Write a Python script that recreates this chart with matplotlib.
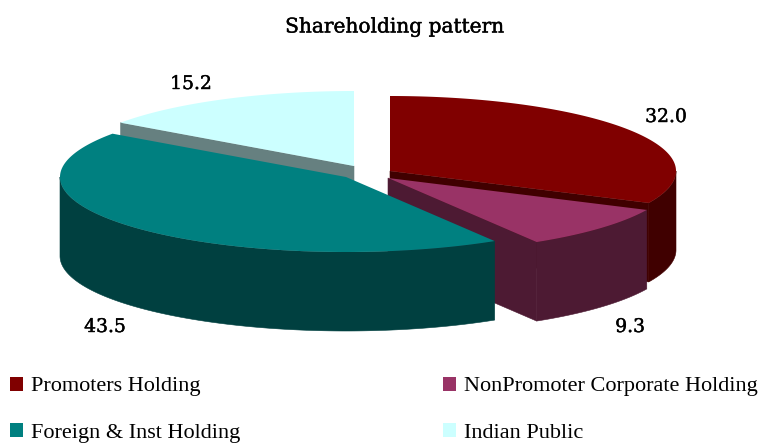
import numpy as np
import matplotlib
matplotlib.use('Agg')
import matplotlib.pyplot as plt
import matplotlib.patheffects as pe
from matplotlib.patches import Patch, Polygon

categories = ['Promoters Holding', 'NonPromoter Corporate Holding',
              'Foreign & Inst Holding', 'Indian Public']
values = [32.0, 9.3, 43.5, 15.2]

top_colors = ['#800000', '#993366', '#008080', '#ccffff']
wall_colors = ['#400000', '#4d1a33', '#004040', '#668080']

# pixel layout of each exploded slice (apex of the top face)
apex_x = [390, 388, 346, 354]
apex_y = [171, 178, 177, 166]
label_x = [666, 630, 105, 191]
label_y = [117, 327, 327, 84]
RX, RY = 286, 75
DEPTH = 79


def rim(cx, cy, start, end):
    # angles in degrees, clockwise from the top of the pie
    t = np.radians(np.linspace(start, end, max(int(abs(end - start)) * 2, 2)))
    return np.column_stack([cx + RX * np.sin(t), cy - RY * np.cos(t)])


fig = plt.figure(figsize=(7.62, 4.44), dpi=100)
ax = fig.add_axes([0, 0, 1, 1])
ax.set_xlim(0, 762)
ax.set_ylim(444, 0)
ax.axis('off')

edges = np.concatenate([[0], np.cumsum(values)]) / np.sum(values) * 360
heavy = [pe.withStroke(linewidth=0.3, foreground='black')]

# back to front: Indian Public, Promoters, NonPromoter, Foreign
for z, i in enumerate([3, 0, 1, 2]):
    cx, cy = apex_x[i], apex_y[i]
    start, end = edges[i], edges[i + 1]
    top = rim(cx, cy, start, end)
    apex = np.array([[cx, cy]])
    shift = np.array([0, DEPTH])

    # radial wall on the cut that faces the viewer
    if i != 2:
        cut = np.vstack([apex, top[:1] if i == 3 else top[-1:]])
        ax.add_patch(Polygon(np.vstack([cut, (cut + shift)[::-1]]),
                             facecolor=wall_colors[i], edgecolor=wall_colors[i],
                             linewidth=0.4, zorder=z + 1))
    lo, hi = max(start, 90), min(end, 270)
    if hi > lo:
        arc = rim(cx, cy, lo, hi)
        ax.add_patch(Polygon(np.vstack([arc, (arc + shift)[::-1]]),
                             facecolor=wall_colors[i], edgecolor=wall_colors[i],
                             linewidth=0.4, zorder=z + 1))

    ax.add_patch(Polygon(np.vstack([apex, top]), facecolor=top_colors[i],
                         edgecolor='none', zorder=z + 1))
    ax.text(label_x[i], label_y[i], f'{values[i]:.1f}', fontsize=13.5,
            family='DejaVu Serif', ha='center', va='center', color='black',
            zorder=10, path_effects=heavy)

ax.text(395, 27, 'Shareholding pattern', fontsize=14.5, family='DejaVu Serif',
        ha='center', va='center', color='black', path_effects=heavy)

order = [0, 2, 1, 3]
handles = [Patch(facecolor=top_colors[i], edgecolor='none', label=categories[i]) for i in order]
ax.legend(handles=handles, ncol=2, frameon=False, loc='upper left',
          bbox_to_anchor=(0.013, 0.152), borderpad=0, borderaxespad=0,
          prop={'family': 'Liberation Serif', 'size': 16},
          handlelength=0.6, handleheight=0.6, handletextpad=0.36,
          labelspacing=1.18, columnspacing=9.1)

fig.savefig('out.png', dpi=100, facecolor='white')
